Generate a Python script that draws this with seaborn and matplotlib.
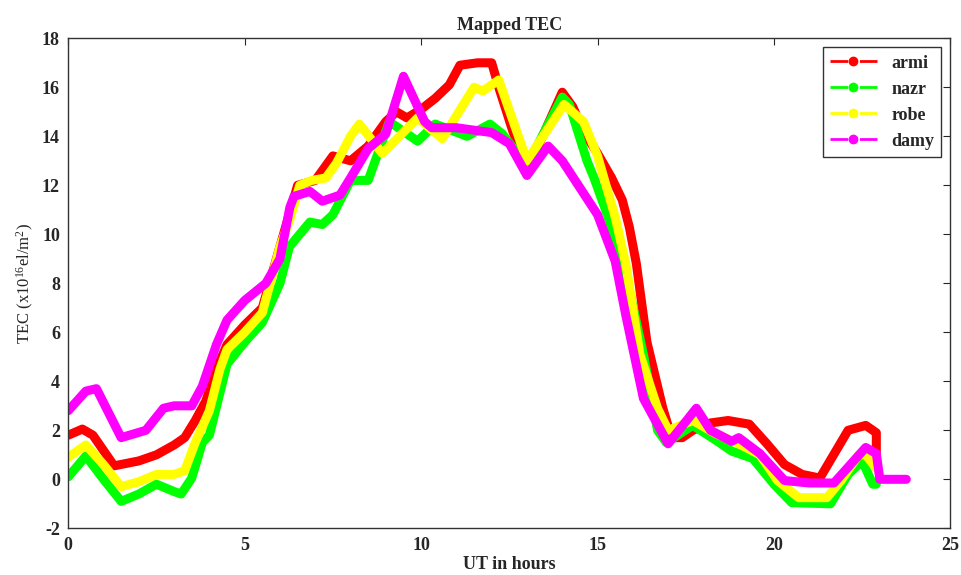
import numpy as np
import pandas as pd
import matplotlib
matplotlib.use("Agg")
import matplotlib.pyplot as plt
import seaborn as sns
from matplotlib.lines import Line2D

stations = ["armi", "nazr", "robe", "damy"]
colors = ["#ff0000", "#00ff00", "#ffff00", "#ff00ff"]

armi_t = [0.0, 0.4, 0.7, 1.3, 2.0, 2.5, 3.0, 3.3, 3.6, 3.9, 4.2, 4.5, 5.0, 5.5, 6.0, 6.3, 6.5, 7.0, 7.5,
          8.0, 8.5, 9.0, 9.3, 9.6, 10.0, 10.4, 10.8, 11.1, 11.6, 12.0, 12.2, 12.6, 12.9, 13.1, 14.0, 14.3,
          14.6, 15.0, 15.4, 15.7, 15.9, 16.1, 16.4, 16.85, 17.1, 17.4, 17.7, 18.2, 18.7, 19.3, 19.8, 20.3,
          20.8, 21.3, 22.1, 22.6, 22.9, 22.9]
armi_v = [1.8, 2.05, 1.8, 0.55, 0.75, 1.0, 1.4, 1.7, 2.4, 3.2, 4.5, 5.5, 6.3, 7.0, 9.5, 11.0, 12.0, 12.2, 13.2,
          13.0, 13.6, 14.6, 15.0, 14.75, 15.1, 15.55, 16.1, 16.9, 17.0, 17.0, 16.0, 14.2, 13.1, 12.9, 15.8, 15.2,
          14.2, 13.3, 12.3, 11.4, 10.3, 8.8, 5.6, 2.9, 1.7, 1.7, 2.0, 2.3, 2.4, 2.25, 1.45, 0.6,
          0.2, 0.05, 2.0, 2.2, 1.9, 1.0]

nazr_t = [0.0, 0.5, 1.0, 1.5, 2.0, 2.5, 3.0, 3.2, 3.5, 3.8, 4.0, 4.5, 5.0, 5.5, 6.0, 6.27, 6.56, 6.85, 7.2, 7.5,
          8.0, 8.5, 9.1, 9.9, 10.4, 11.3, 11.95, 12.3, 13.0, 14.0, 14.2, 14.7, 14.9, 15.3, 15.8, 16.3, 16.7,
          16.95, 17.7, 18.4, 18.8, 19.4, 20.0, 20.5, 21.6, 22.1, 22.5, 22.8, 22.9]
nazr_v = [0.1, 0.95, 0.0, -0.9, -0.6, -0.2, -0.5, -0.6, 0.05, 1.5, 1.8, 4.7, 5.6, 6.4, 8.0, 9.5, 10.0, 10.5, 10.4, 10.8,
          12.2, 12.2, 14.6, 13.8, 14.5, 14.0, 14.5, 14.1, 12.8, 15.6, 15.3, 13.0, 12.3, 10.7, 8.4, 5.1, 2.0,
          1.5, 2.2, 1.55, 1.15, 0.85, -0.2, -0.95, -1.0, 0.2, 0.75, -0.2, -0.2]

robe_t = [0.0, 0.5, 1.0, 1.5, 2.0, 2.5, 3.0, 3.3, 3.6, 4.0, 4.3, 4.5, 5.0, 5.5, 6.0, 6.3, 6.56, 6.9, 7.3, 7.6,
          8.0, 8.25, 8.9, 9.9, 10.6, 11.5, 11.75, 12.2, 13.0, 14.05, 14.6, 15.0, 15.5, 15.8, 16.2, 16.7,
          17.0, 17.7, 18.3, 19.0, 19.6, 20.1, 20.7, 21.5, 21.9, 22.4, 22.6, 22.9]
robe_v = [0.9, 1.4, 0.6, -0.3, -0.1, 0.2, 0.2, 0.35, 1.5, 2.8, 4.5, 5.3, 6.0, 6.8, 9.5, 10.7, 12.0, 12.2, 12.3, 12.9,
          14.0, 14.5, 13.3, 14.75, 13.9, 16.0, 15.85, 16.3, 13.0, 15.3, 14.6, 13.2, 10.7, 8.8, 5.1, 2.9,
          2.0, 2.4, 1.9, 1.45, 1.0, -0.05, -0.75, -0.75, -0.05, 1.0, 1.0, 0.45]

damy_t = [0.0, 0.5, 0.8, 1.5, 2.2, 2.7, 3.0, 3.5, 3.8, 4.2, 4.5, 5.0, 5.6, 6.0, 6.28, 6.4, 6.85, 7.2, 7.7,
          8.0, 8.5, 9.0, 9.5, 10.1, 10.3, 11.0, 12.0, 12.5, 13.0, 13.6, 14.0, 14.5, 15.0, 15.5, 15.8, 16.3,
          17.0, 17.8, 18.2, 18.8, 19.0, 19.6, 20.3, 21.0, 21.7, 22.6, 22.9, 23.0, 23.75]
damy_v = [2.8, 3.6, 3.7, 1.7, 2.0, 2.9, 3.0, 3.0, 3.8, 5.5, 6.5, 7.3, 8.0, 9.0, 11.1, 11.55, 11.75, 11.35, 11.6,
          12.3, 13.5, 14.1, 16.45, 14.6, 14.35, 14.35, 14.15, 13.7, 12.4, 13.6, 13.0, 11.9, 10.8, 8.9, 6.7, 3.3,
          1.45, 2.9, 2.0, 1.55, 1.7, 1.05, -0.05, -0.15, -0.15, 1.3, 1.05, 0.0, 0.0]

frames = []
for name, t, v in [("armi", armi_t, armi_v), ("nazr", nazr_t, nazr_v),
                   ("robe", robe_t, robe_v), ("damy", damy_t, damy_v)]:
    frames.append(pd.DataFrame({"UT": t, "TEC": v, "station": name}))
df = pd.concat(frames, ignore_index=True)

sns.set_style("white")
plt.rcParams["font.family"] = ["Liberation Serif", "DejaVu Serif"]
plt.rcParams["axes.unicode_minus"] = False
plt.rcParams["mathtext.default"] = "regular"

fig = plt.figure(figsize=(9.61, 5.75), dpi=100)
ax = fig.add_axes([0.071, 0.0812, 0.918, 0.8522])

for name, c in zip(stations, colors):
    sub = df[df["station"] == name]
    sns.lineplot(data=sub, x="UT", y="TEC", color=c, linewidth=6.5, sort=False,
                 estimator=None, ax=ax, legend=False, solid_joinstyle="round")

ax.set_xlim(0, 25)
ax.set_ylim(-2, 18)
ax.set_xticks([0, 5, 10, 15, 20, 25])
ax.set_yticks(list(range(-2, 19, 2)))
ax.tick_params(direction="in", length=5, width=0.8, top=True, right=True,
               labelsize=13, pad=6)
for lab in ax.get_xticklabels() + ax.get_yticklabels():
    lab.set_fontweight("bold")
for s in ax.spines.values():
    s.set_color("#333333")
    s.set_linewidth(1.0)

ax.set_title("Mapped TEC", fontsize=13, fontweight="bold", pad=6)
ax.set_xlabel("UT in hours", fontsize=13, fontweight="bold", labelpad=2)
ax.set_ylabel(r"TEC (x10$^{16}$el/m$^{2}$)", fontsize=12, labelpad=4)

handles = [Line2D([0], [0], color=c, linestyle="-.", linewidth=2.0, marker="o", markersize=6)
           for c in colors]
leg = ax.legend(handles, stations, loc="upper right", frameon=True, fancybox=False,
                edgecolor="black", prop={"weight": "bold", "size": 13},
                borderaxespad=0.5, handlelength=2.6, labelspacing=0.5)
leg.get_frame().set_linewidth(1.0)

fig.savefig("out.png", dpi=100)
